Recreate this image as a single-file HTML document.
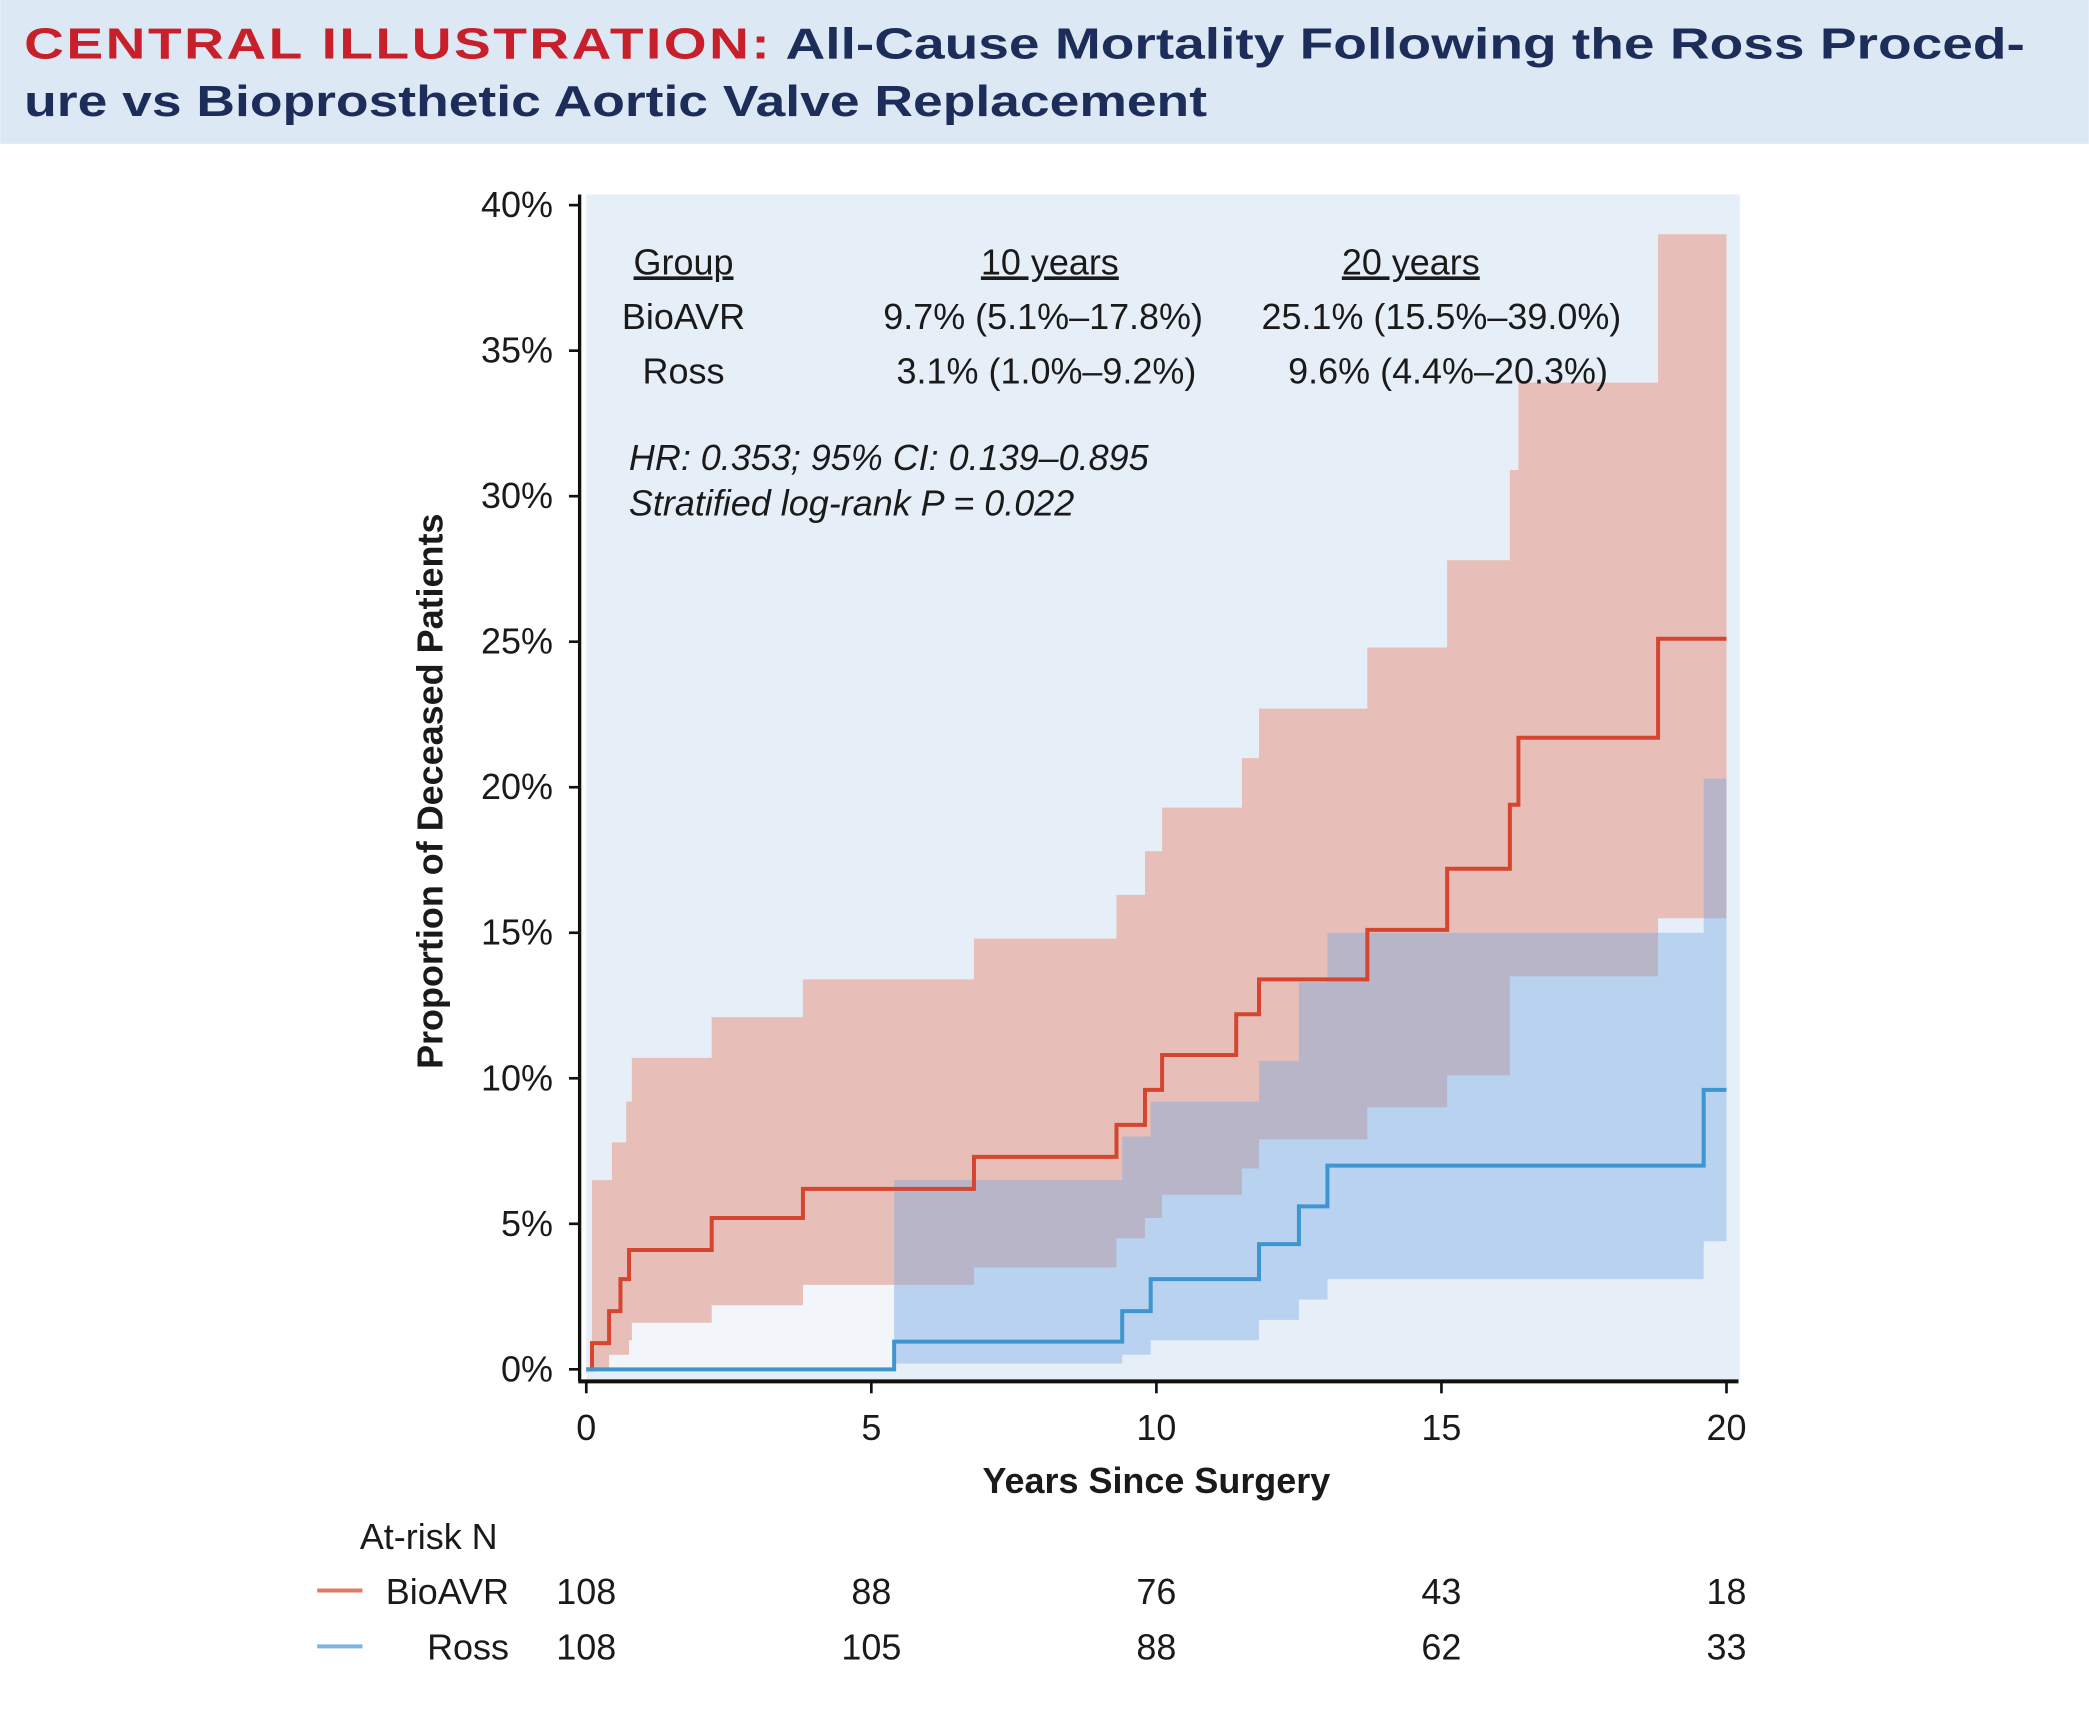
<!DOCTYPE html>
<html><head><meta charset="utf-8"><style>
html,body{margin:0;padding:0;background:#fff;}
svg{display:block;font-family:"Liberation Sans",sans-serif;}
</style></head><body>
<svg id="chart" width="2089" height="1709" viewBox="0 0 1568 1283">
<rect x="0" y="0" width="1568" height="108" fill="#dde8f5"/>
<text x="18" y="44" font-size="33" font-weight="bold" textLength="1502" lengthAdjust="spacingAndGlyphs"><tspan fill="#c8202a" letter-spacing="1.5">CENTRAL ILLUSTRATION:</tspan><tspan fill="#1c2d5a"> All-Cause Mortality Following the Ross Proced-</tspan></text>
<text x="18" y="87" font-size="33" font-weight="bold" fill="#1c2d5a" textLength="888" lengthAdjust="spacingAndGlyphs">ure vs Bioprosthetic Aortic Valve Replacement</text>
<rect x="440" y="146" width="866" height="890" fill="#e6eef8"/>
<g id="marks"></g>
<g id="axes"></g>
<g font-size="27" fill="#1a1a1a">
<text x="513" y="206" text-anchor="middle" text-decoration="underline">Group</text>
<text x="788" y="206" text-anchor="middle" text-decoration="underline">10 years</text>
<text x="1059" y="206" text-anchor="middle" text-decoration="underline">20 years</text>
<text x="513" y="247" text-anchor="middle">BioAVR</text>
<text x="903" y="247" text-anchor="end">9.7% (5.1%–17.8%)</text>
<text x="1217" y="247" text-anchor="end">25.1% (15.5%–39.0%)</text>
<text x="513" y="288" text-anchor="middle">Ross</text>
<text x="898" y="288" text-anchor="end">3.1% (1.0%–9.2%)</text>
<text x="1207" y="288" text-anchor="end">9.6% (4.4%–20.3%)</text>
<text x="472" y="353" font-style="italic">HR: 0.353; 95% CI: 0.139–0.895</text>
<text x="472" y="387" font-style="italic">Stratified log-rank P = 0.022</text>
</g>
<text transform="translate(332,594) rotate(-90)" text-anchor="middle" font-size="27" font-weight="bold" fill="#1a1a1a">Proportion of Deceased Patients</text>
<text x="868" y="1121" text-anchor="middle" font-size="27" font-weight="bold" fill="#1a1a1a">Years Since Surgery</text>
<text x="270" y="1163" font-size="27" fill="#1a1a1a">At-risk N</text>
<line x1="238" y1="1194" x2="272" y2="1194" stroke="#e07a66" stroke-width="3"/>
<line x1="238" y1="1236" x2="272" y2="1236" stroke="#7fb4df" stroke-width="3"/>
<text x="382" y="1204" text-anchor="end" font-size="27" fill="#1a1a1a">BioAVR</text>
<text x="382" y="1246" text-anchor="end" font-size="27" fill="#1a1a1a">Ross</text>
<g id="atrisk"></g>
</svg>
<script>
const xTicks = [0, 5, 10, 15, 20];
const yTicks = [0, 5, 10, 15, 20, 25, 30, 35, 40];
const bioTimes = [0, 0.1, 0.4, 0.6, 0.75, 2.2, 3.8, 6.8, 9.3, 9.8, 10.1, 11.4, 11.8, 13.7, 15.1, 16.2, 16.35, 18.8];
const bioValues = [0, 0.9, 2.0, 3.1, 4.1, 5.2, 6.2, 7.3, 8.4, 9.6, 10.8, 12.2, 13.4, 15.1, 17.2, 19.4, 21.7, 25.1];
const bioUpperTimes = [0, 0.1, 0.45, 0.7, 0.8, 2.2, 3.8, 6.8, 9.3, 9.8, 10.1, 11.5, 11.8, 13.7, 15.1, 16.2, 16.35, 18.8];
const bioUpper = [0, 6.5, 7.8, 9.2, 10.7, 12.1, 13.4, 14.8, 16.3, 17.8, 19.3, 21.0, 22.7, 24.8, 27.8, 30.9, 33.9, 39.0];
const bioLowerTimes = [0, 0.4, 0.75, 0.8, 2.2, 3.8, 6.8, 9.3, 9.8, 10.1, 11.5, 11.8, 13.7, 15.1, 16.2, 18.8];
const bioLower = [0, 0.5, 1.0, 1.6, 2.2, 2.9, 3.5, 4.5, 5.2, 6.0, 6.9, 7.9, 9.0, 10.1, 13.5, 15.5];
const rossTimes = [0, 5.4, 9.4, 9.9, 11.8, 12.5, 13.0, 19.6];
const rossValues = [0, 0.95, 2.0, 3.1, 4.3, 5.6, 7.0, 9.6];
const rossUpperTimes = [5.4, 9.4, 9.9, 11.8, 12.5, 13.0, 19.6];
const rossUpper = [6.5, 8.0, 9.2, 10.6, 13.3, 15.0, 20.3];
const rossLowerTimes = [5.4, 9.4, 9.9, 11.8, 12.5, 13.0, 19.6];
const rossLower = [0.2, 0.5, 1.0, 1.7, 2.4, 3.1, 4.4];
const bioAtRisk = [108, 88, 76, 43, 18];
const rossAtRisk = [108, 105, 88, 62, 33];
const tEnd = 20;

const NS = 'http://www.w3.org/2000/svg';
const sx = t => 440 + (t / 20) * 856;
const sy = v => 1028 - (v / 40) * 874;
function el(tag, attrs, parent) {
  const e = document.createElementNS(NS, tag);
  for (const k in attrs) e.setAttribute(k, attrs[k]);
  parent.appendChild(e);
  return e;
}
function stepPts(times, vals, end) {
  const p = [];
  for (let i = 0; i < times.length; i++) {
    if (i > 0) p.push([sx(times[i]), sy(vals[i - 1])]);
    p.push([sx(times[i]), sy(vals[i])]);
  }
  p.push([sx(end), sy(vals[vals.length - 1])]);
  return p;
}
function band(upT, up, loT, lo, end) {
  const a = stepPts(upT, up, end);
  const b = stepPts(loT, lo, end).reverse();
  return a.concat(b).map(q => q.join(',')).join(' ');
}
const marks = document.getElementById('marks');
const nLow = bioLowerTimes.filter(t => t < rossTimes[1]).length;
const wr = el('polygon', {points: band([0, rossTimes[1]], [0, 0], bioLowerTimes.slice(0, nLow), bioLower.slice(0, nLow), rossTimes[1]), fill: '#f2f6fb'}, marks);


const bb = el('polygon', {points: band(bioUpperTimes, bioUpper, bioLowerTimes, bioLower, tEnd), fill: 'rgb(232,120,88)', 'fill-opacity': '0.4'}, marks);


const rb = el('polygon', {points: band(rossUpperTimes, rossUpper, rossLowerTimes, rossLower, tEnd), fill: 'rgb(110,165,225)', 'fill-opacity': '0.38'}, marks);


const bl = el('polyline', {points: stepPts(bioTimes, bioValues, tEnd).map(q => q.join(',')).join(' '), fill: 'none', stroke: '#d4462f', 'stroke-width': '3'}, marks);


const rl = el('polyline', {points: stepPts(rossTimes, rossValues, tEnd).map(q => q.join(',')).join(' '), fill: 'none', stroke: '#3f95cf', 'stroke-width': '3'}, marks);



const axes = document.getElementById('axes');
const ya = el('line', {x1: 435, y1: 146, x2: 435, y2: 1037, stroke: '#111', 'stroke-width': '2.5'}, axes);


const xa = el('line', {x1: 434, y1: 1037, x2: 1305, y2: 1037, stroke: '#111', 'stroke-width': '3'}, axes);


yTicks.forEach(v => {
  const tk = el('line', {x1: 427, y1: sy(v), x2: 435, y2: sy(v), stroke: '#111', 'stroke-width': '2'}, axes);
  
  
  const tl = el('text', {x: 415, y: sy(v) + 9, 'text-anchor': 'end', 'font-size': '27', fill: '#1a1a1a'}, axes);
  tl.textContent = v + '%';
  
  
});
xTicks.forEach(t => {
  const tk = el('line', {x1: sx(t), y1: 1037, x2: sx(t), y2: 1046, stroke: '#111', 'stroke-width': '2'}, axes);
  
  
  const tl = el('text', {x: sx(t), y: 1081, 'text-anchor': 'middle', 'font-size': '27', fill: '#1a1a1a'}, axes);
  tl.textContent = t;
  
  
});
const ar = document.getElementById('atrisk');
xTicks.forEach((t, i) => {
  const a = el('text', {x: sx(t), y: 1204, 'text-anchor': 'middle', 'font-size': '27', fill: '#1a1a1a'}, ar);
  a.textContent = bioAtRisk[i];
  
  
  const b = el('text', {x: sx(t), y: 1246, 'text-anchor': 'middle', 'font-size': '27', fill: '#1a1a1a'}, ar);
  b.textContent = rossAtRisk[i];
  
  
});
</script>
</body></html>
